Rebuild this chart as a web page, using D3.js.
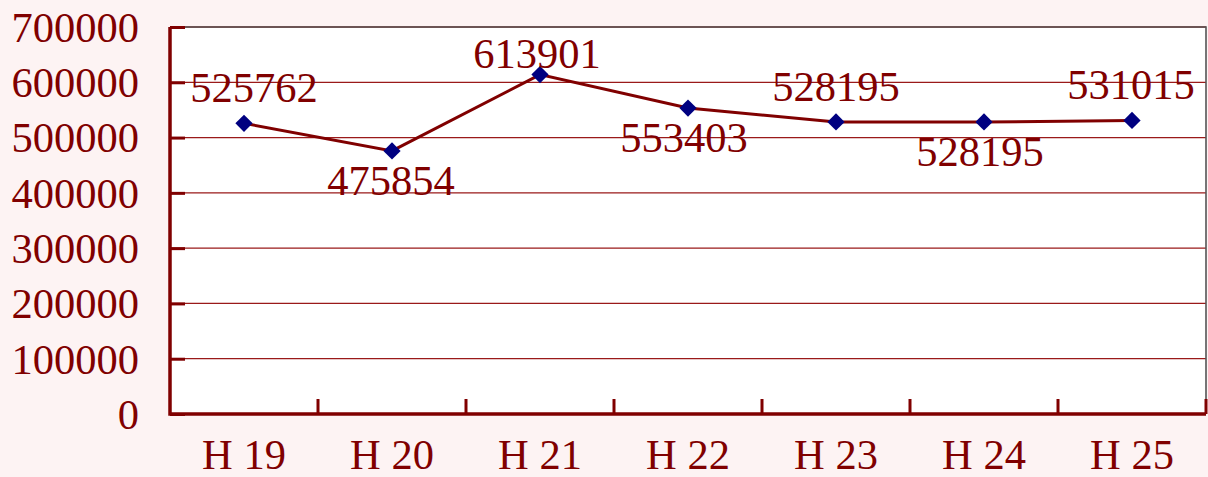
<!DOCTYPE html>
<html><head><meta charset="utf-8">
<script src="https://cdn.jsdelivr.net/npm/d3@7"></script>
<style>html,body{margin:0;padding:0;background:#fdf3f3;}svg{display:block}</style>
</head><body>
<script>
const categories = ["H 19","H 20","H 21","H 22","H 23","H 24","H 25"];
const values = [525762, 475854, 613901, 553403, 528195, 528195, 531015];
const labelSide = ["above","below","above","below","above","below","above"];
const labelNudge = [10, -1, -3, -4, 0, -4, -1];
const yTicks = [0,100000,200000,300000,400000,500000,600000,700000];

const W = 1208, H = 477;
const m = {left:170, right:2, top:27, bottom:63};
const svg = d3.select("body").append("svg").attr("width",W).attr("height",H);
svg.append("rect").attr("width",W).attr("height",H).attr("fill","#fdf3f3");
const iw = W-m.left-m.right, ih = H-m.top-m.bottom;
const g = svg.append("g").attr("transform",`translate(${m.left},${m.top})`);
const x = d3.scaleBand().domain(categories).range([0,iw]);
const y = d3.scaleLinear().domain([0,700000]).range([ih,0]);
const red = "#800000";
const font = "'Liberation Serif', 'DejaVu Serif', serif";
const fs = 42.5;

g.append("rect").attr("width",iw).attr("height",ih).attr("fill","#fff");
// gridlines
g.selectAll("line.grid").data(yTicks.filter(d=>d>0)).join("line")
  .attr("x1",0).attr("x2",iw).attr("y1",d=>y(d)).attr("y2",d=>y(d))
  .attr("stroke","#9a1a1a").attr("stroke-width",1.3);
// top/right border
g.append("path").attr("d",`M0,0H${iw}V${ih}`).attr("fill","none").attr("stroke","#555").attr("stroke-width",1.6);

// y axis
const ya = d3.axisRight(y).tickValues(yTicks).tickSize(15).tickFormat("");
const yg = g.append("g").call(ya);
yg.select(".domain").remove();
yg.selectAll("line").attr("stroke",red).attr("stroke-width",3);
g.selectAll("text.ylab").data(yTicks).join("text")
  .attr("x",-31).attr("y",d=>y(d)).attr("dy","0.35em").attr("text-anchor","end")
  .attr("font-family",font).attr("font-size",fs).attr("fill",red).text(d=>d);

// x axis ticks at boundaries
const bounds = categories.slice(1).map(c=>x(c)).concat([iw]);
g.selectAll("line.xt").data(bounds).join("line")
  .attr("x1",d=>d).attr("x2",d=>d).attr("y1",ih).attr("y2",ih-15)
  .attr("stroke",red).attr("stroke-width",3);
g.append("path").attr("d",`M0,0V${ih}H${iw}`).attr("fill","none").attr("stroke",red).attr("stroke-width",3.5);
g.selectAll("text.xl").data(categories).join("text")
  .attr("x",d=>x(d)+x.bandwidth()/2).attr("y",ih+55).attr("text-anchor","middle")
  .attr("font-family",font).attr("font-size",fs).attr("fill",red).text(d=>d);

// line
const cx = (d,i)=>x(categories[i])+x.bandwidth()/2;
const line = d3.line().x((d,i)=>cx(d,i)).y(d=>y(d));
g.append("path").datum(values).attr("d",line).attr("fill","none").attr("stroke",red).attr("stroke-width",3);
g.selectAll("path.mk").data(values).join("path")
  .attr("transform",(d,i)=>`translate(${cx(d,i)},${y(d)})`)
  .attr("d",d3.symbol(d3.symbolDiamond2,190)).attr("fill","#000080");

// labels
g.selectAll("text.dl").data(values).join("text")
  .attr("x",(d,i)=>cx(d,i)+labelNudge[i])
  .attr("y",(d,i)=>{
    const py = y(d);
    if (labelSide[i]==="below") return py+44;
    return Math.max(py-21, 41);
  })
  .attr("text-anchor","middle").attr("font-family",font).attr("font-size",fs).attr("fill",red).text(d=>d);
</script>
</body></html>
